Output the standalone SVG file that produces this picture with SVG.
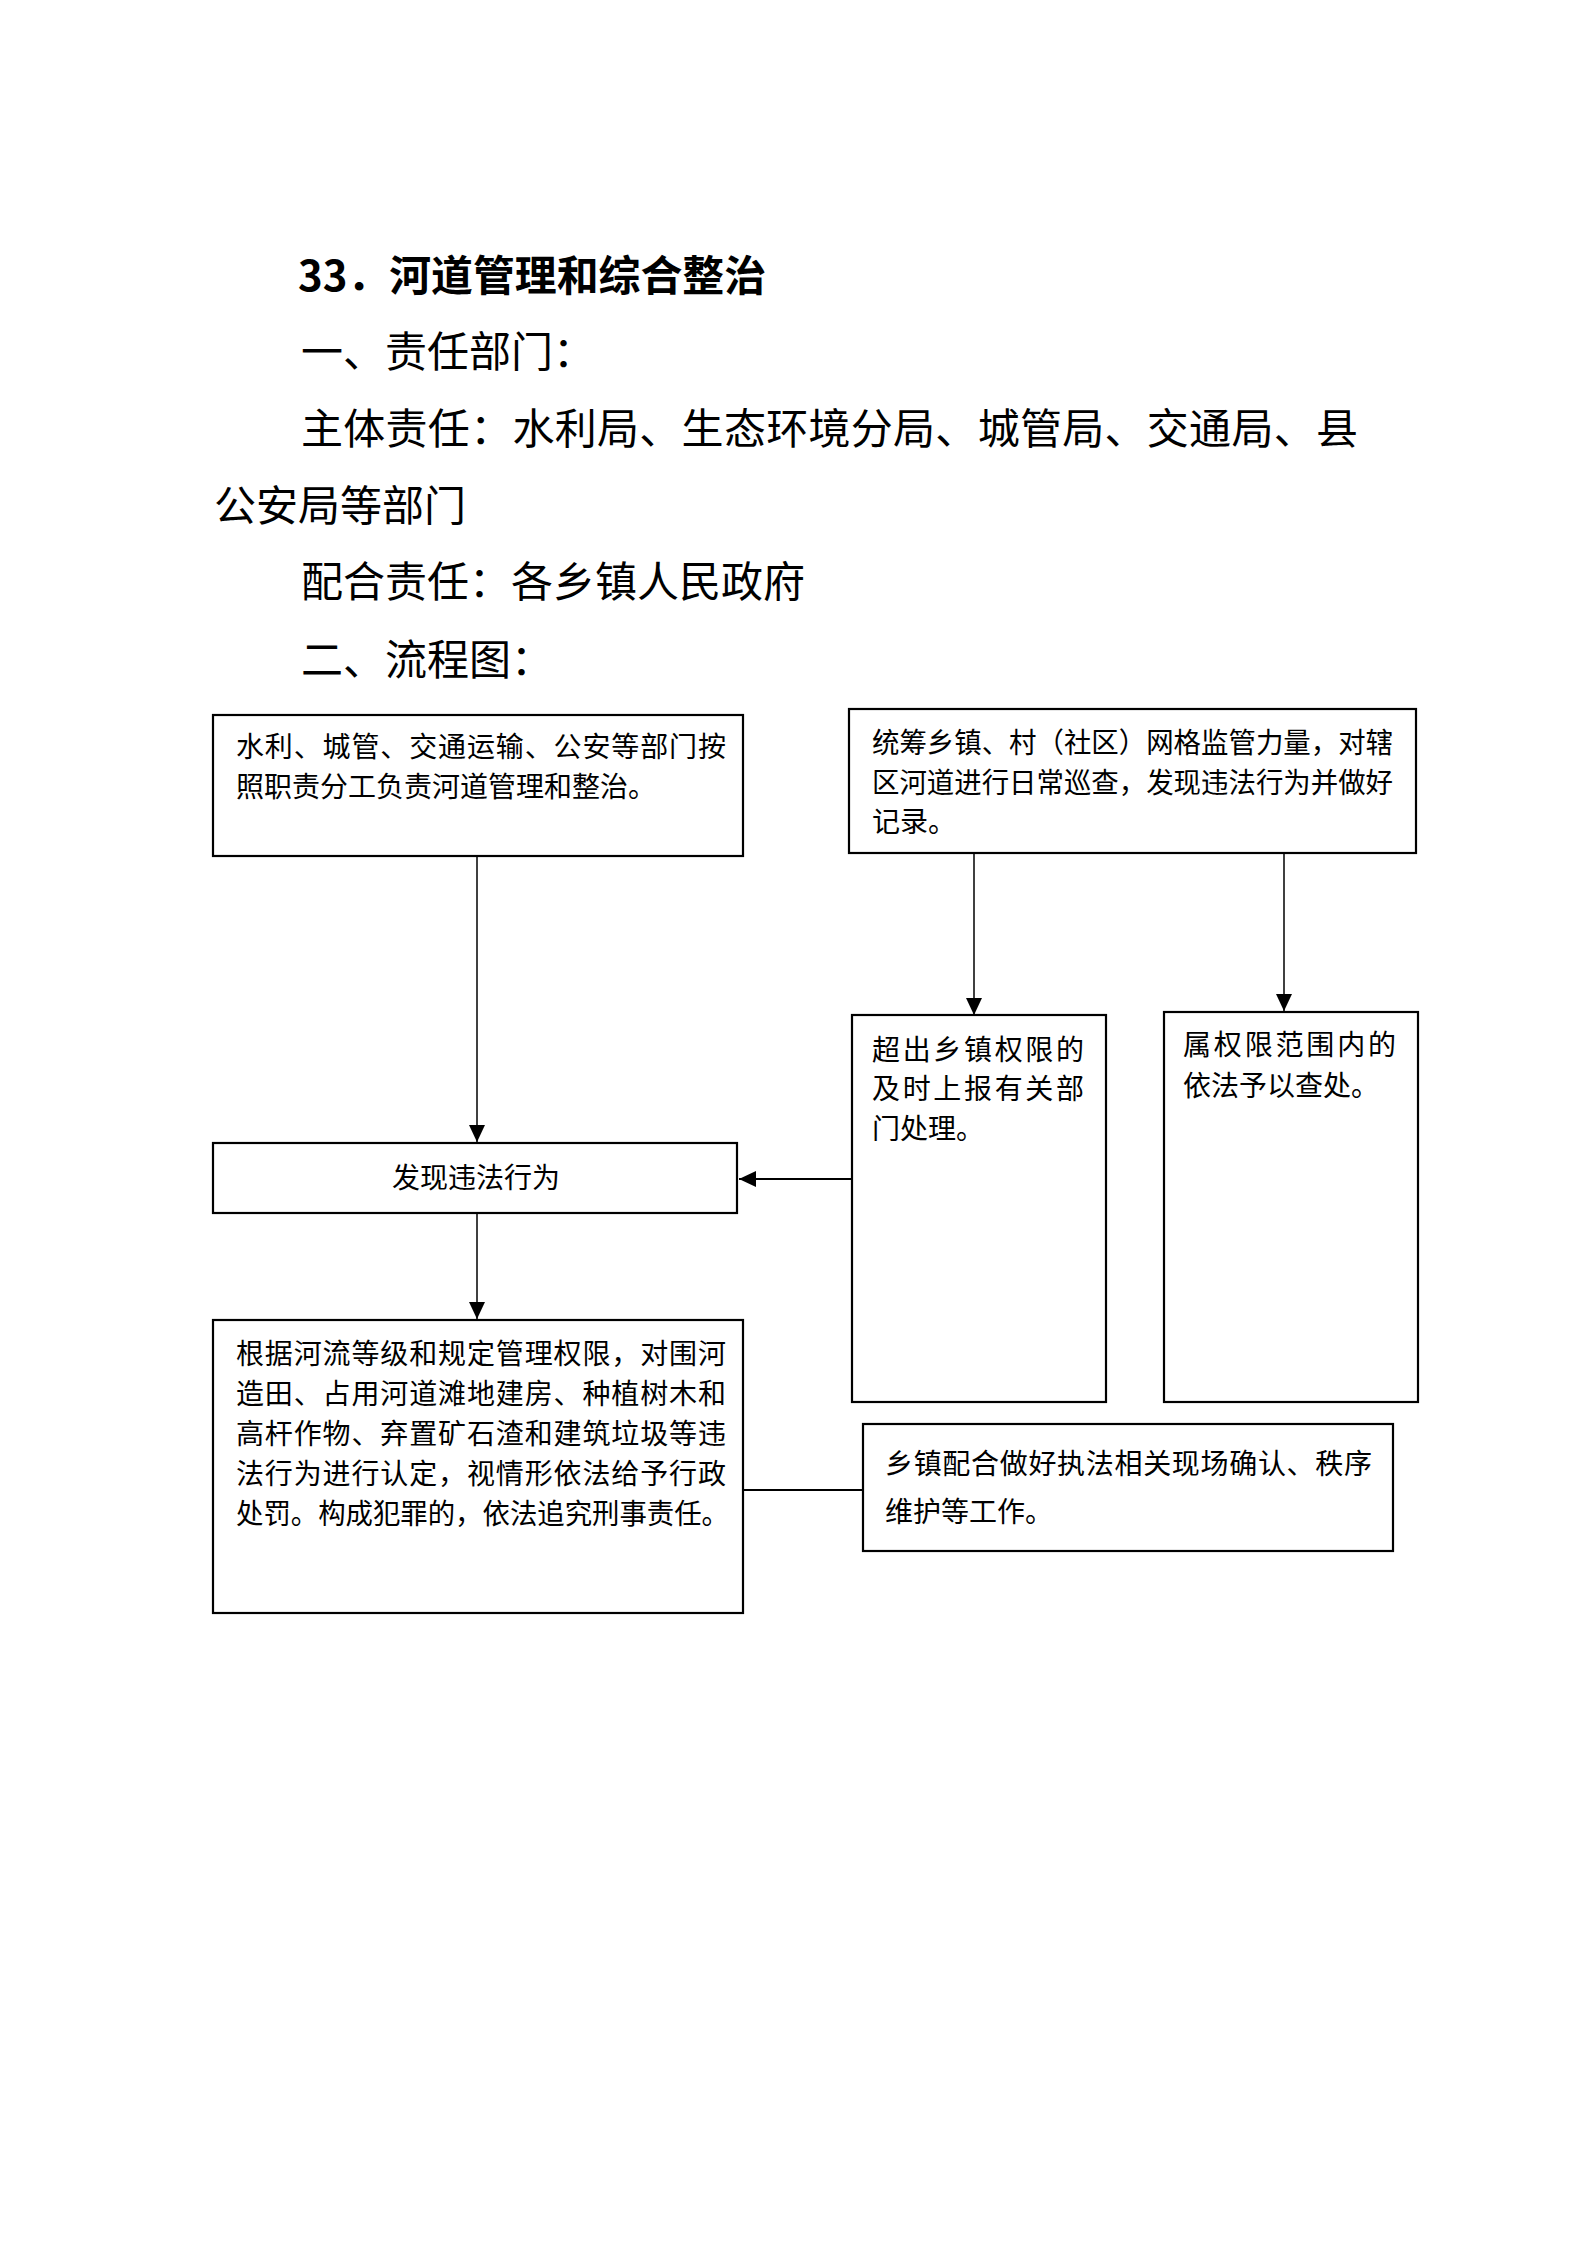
<svg xmlns="http://www.w3.org/2000/svg" width="1587" height="2245" viewBox="0 0 1587 2245">
<style>
.bg{fill:#fff}
.box{fill:#fff;stroke:#000;stroke-width:2.2}
.h{font-family:"Noto Sans CJK SC","Liberation Sans",sans-serif;font-size:42px;fill:#000}
.t{font-family:"Noto Sans CJK SC","Liberation Sans",sans-serif;font-size:28px;fill:#000}
.ln{stroke:#000;fill:none}
</style>
<defs>
<marker id="ah" markerUnits="userSpaceOnUse" markerWidth="18" markerHeight="16" refX="17" refY="8" orient="auto">
<path d="M0,0 L17,8 L0,16 Z" fill="#000"/>
</marker>
</defs>
<rect class="bg" x="0" y="0" width="1587" height="2245"/>
<g id="header">
<text class="h" x="298" y="291" font-weight="bold" textLength="468" lengthAdjust="spacingAndGlyphs">33．河道管理和综合整治</text>
<text class="h" x="301" y="367">一、责任部门：</text>
<text class="h" x="301" y="444" textLength="1057" lengthAdjust="spacing">主体责任：水利局、生态环境分局、城管局、交通局、县</text>
<text class="h" x="214" y="521">公安局等部门</text>
<text class="h" x="301" y="597">配合责任：各乡镇人民政府</text>
<text class="h" x="301" y="675">二、流程图：</text>
</g>
<g id="connectors">
<line class="ln" stroke-width="1.5" x1="477" y1="857" x2="477" y2="1142" marker-end="url(#ah)"/>
<line class="ln" stroke-width="1.5" x1="974" y1="854" x2="974" y2="1015" marker-end="url(#ah)"/>
<line class="ln" stroke-width="1.5" x1="1284" y1="854" x2="1284" y2="1011" marker-end="url(#ah)"/>
<line class="ln" stroke-width="2.2" x1="852" y1="1179" x2="739" y2="1179" marker-end="url(#ah)"/>
<line class="ln" stroke-width="1.5" x1="477" y1="1214" x2="477" y2="1319" marker-end="url(#ah)"/>
<line class="ln" stroke-width="2.2" x1="743" y1="1490" x2="863" y2="1490"/>
</g>
<g id="n1">
<rect class="box" x="213" y="715" width="530" height="141"/>
<text class="t" x="236" y="757" textLength="490" lengthAdjust="spacing">水利、城管、交通运输、公安等部门按</text>
<text class="t" x="236" y="797">照职责分工负责河道管理和整治。</text>
</g>
<g id="n2">
<rect class="box" x="849" y="709" width="567" height="144"/>
<text class="t" x="872" y="753" textLength="521" lengthAdjust="spacingAndGlyphs">统筹乡镇、村（社区）网格监管力量，对辖</text>
<text class="t" x="872" y="793" textLength="521" lengthAdjust="spacingAndGlyphs">区河道进行日常巡查，发现违法行为并做好</text>
<text class="t" x="872" y="832">记录。</text>
</g>
<g id="n3">
<rect class="box" x="213" y="1143" width="524" height="70"/>
<text class="t" x="476" y="1188" text-anchor="middle">发现违法行为</text>
</g>
<g id="n4">
<rect class="box" x="852" y="1015" width="254" height="387"/>
<text class="t" x="872" y="1060" textLength="212" lengthAdjust="spacing">超出乡镇权限的</text>
<text class="t" x="872" y="1099" textLength="212" lengthAdjust="spacing">及时上报有关部</text>
<text class="t" x="872" y="1139">门处理。</text>
</g>
<g id="n5">
<rect class="box" x="1164" y="1012" width="254" height="390"/>
<text class="t" x="1183" y="1055" textLength="213" lengthAdjust="spacing">属权限范围内的</text>
<text class="t" x="1183" y="1096">依法予以查处。</text>
</g>
<g id="n6">
<rect class="box" x="213" y="1320" width="530" height="293"/>
<text class="t" x="236" y="1364" textLength="490" lengthAdjust="spacing">根据河流等级和规定管理权限，对围河</text>
<text class="t" x="236" y="1404" textLength="490" lengthAdjust="spacing">造田、占用河道滩地建房、种植树木和</text>
<text class="t" x="236" y="1444" textLength="490" lengthAdjust="spacing">高杆作物、弃置矿石渣和建筑垃圾等违</text>
<text class="t" x="236" y="1484" textLength="490" lengthAdjust="spacing">法行为进行认定，视情形依法给予行政</text>
<text class="t" x="236" y="1524" textLength="493" lengthAdjust="spacingAndGlyphs">处罚。构成犯罪的，依法追究刑事责任。</text>
</g>
<g id="n7">
<rect class="box" x="863" y="1424" width="530" height="127"/>
<text class="t" x="885" y="1474" textLength="487" lengthAdjust="spacing">乡镇配合做好执法相关现场确认、秩序</text>
<text class="t" x="885" y="1522">维护等工作。</text>
</g>
</svg>
